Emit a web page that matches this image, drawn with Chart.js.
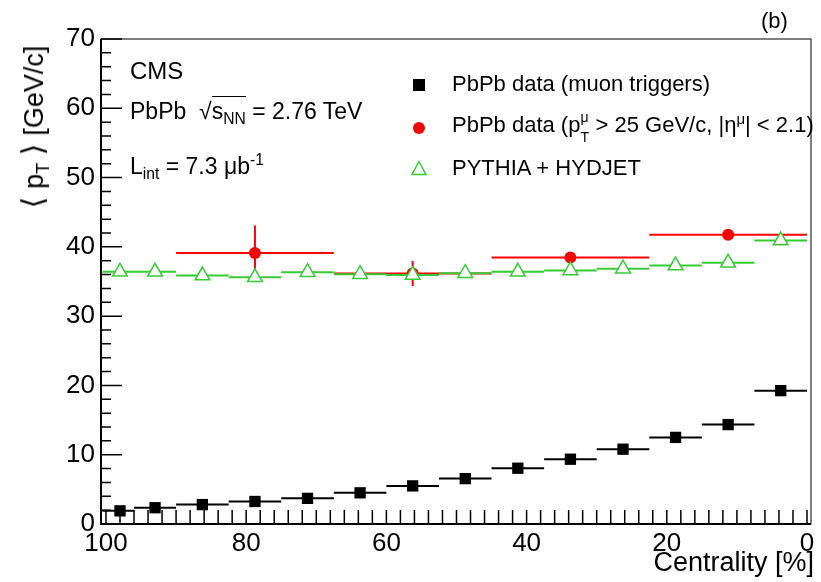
<!DOCTYPE html>
<html>
<head>
<meta charset="utf-8">
<script src="https://cdn.jsdelivr.net/npm/chart.js@4.4.0/dist/chart.umd.min.js"></script>
<style>
body { margin: 0; background: #fff; }
#wrap { position: relative; width: 821px; height: 582px; font-family: "Liberation Sans", Arial, Helvetica, sans-serif; color: #000; }
#chart { position: absolute; left: 0; top: 0; }
.txt { position: absolute; white-space: nowrap; line-height: 1; }
.txt sub { font-size: 0.68em; vertical-align: baseline; position: relative; top: 0.3em; }
.txt sup { font-size: 0.68em; vertical-align: baseline; position: relative; top: -0.55em; }
.ov { border-top: 1.5px solid #000; padding-top: 1px; }
.stack { display: inline-block; position: relative; width: 9px; height: 0; vertical-align: baseline; }
.stack span { position: absolute; left: 0; font-size: 14px; line-height: 1; }
.mk { position: absolute; }
#ytitle { position: absolute; left: 33px; top: 127px; transform: translate(-50%, -50%) rotate(-90deg); white-space: nowrap; line-height: 1; font-size: 27px; }
#ytitle .br { font-size: 30px; }
</style>
</head>
<body>
<div id="wrap">
  <canvas id="chart" width="821" height="582"></canvas>

  <div class="txt" style="left:761px; top:10px; font-size:22px;">(b)</div>
  <div class="txt" style="left:130px; top:59px; font-size:24px;">CMS</div>
  <div class="txt" style="left:130px; top:100px; font-size:23px;">PbPb&nbsp;&nbsp;√<span class="ov">s<sub>NN</sub></span> = 2.76 TeV</div>
  <div class="txt" style="left:130px; top:155px; font-size:23px;">L<sub>int</sub> = 7.3 μb<sup>-1</sup></div>

  <svg class="mk" style="left:413px; top:79px;" width="12" height="12"><rect x="0" y="0" width="12" height="12" fill="#000"/></svg>
  <div class="txt" style="left:452px; top:73px; font-size:22px;">PbPb data (muon triggers)</div>
  <svg class="mk" style="left:413px; top:122px;" width="12" height="12"><circle cx="6" cy="6" r="6" fill="#ff0000"/></svg>
  <div class="txt" style="left:452px; top:114px; font-size:22px;">PbPb data (p<span class="stack"><span style="top:-22px;">μ</span><span style="top:-2px;">T</span></span> &gt; 25 GeV/c, |η<sup>μ</sup>| &lt; 2.1)</div>
  <svg class="mk" style="left:411px; top:160px;" width="16" height="16"><polygon points="8,1.5 15,14.5 1,14.5" fill="#fff" stroke="#33cc33" stroke-width="1.5"/></svg>
  <div class="txt" style="left:452px; top:157px; font-size:22px;">PYTHIA + HYDJET</div>

  <div id="ytitle"><span class="br">⟨</span> p<sub style="font-size:0.68em;position:relative;top:0.3em;vertical-align:baseline;">T</sub> <span class="br">⟩</span> [GeV/c]</div>
  <div class="txt" style="right:7px; top:549px; font-size:27px;">Centrality [%]</div>
</div>

<script>
// centrality bins (%) for the muon-trigger and PYTHIA+HYDJET points
const binCenter = [98, 93, 86.25, 78.75, 71.25, 63.75, 56.25, 48.75, 41.25, 33.75, 26.25, 18.75, 11.25, 3.75];
const binLow = [96, 90, 82.5, 75, 67.5, 60, 52.5, 45, 37.5, 30, 22.5, 15, 7.5, 0];
const binHigh = [100.5, 96, 90, 82.5, 75, 67.5, 60, 52.5, 45, 37.5, 30, 22.5, 15, 7.5];

// <pT> values [GeV/c]
const muonTrig = [1.9, 2.35, 2.8, 3.25, 3.7, 4.5, 5.5, 6.55, 8.05, 9.35, 10.8, 12.5, 14.35, 19.25];
const pythiaHydjet = [36.4, 36.4, 35.85, 35.6, 36.35, 36.05, 35.95, 36.2, 36.4, 36.6, 36.85, 37.3, 37.7, 40.9];

// high-pT muon selection, wide bins
const wCenter = [78.75, 56.25, 33.75, 11.25];
const wLow = [67.5, 45, 22.5, 0];
const wHigh = [90, 67.5, 45, 22.5];
const wValue = [39.1, 36.15, 38.45, 41.75];
const wErr = [4.0, 1.8, 0.6, 0.5];

const xTickLabels = [0, 20, 40, 60, 80, 100];
const yTickLabels = [0, 10, 20, 30, 40, 50, 60, 70];

const FONT = '"Liberation Sans", Arial, Helvetica, sans-serif';

function toPoints(xs, ys) {
    return xs.map((x, i) => ({ x: x, y: ys[i] }));
}

// horizontal (bin width) and vertical error bars, drawn under each dataset's markers
const errorBars = {
    id: 'errorBars',
    beforeDatasetDraw(chart, args) {
        const ds = chart.data.datasets[args.index];
        if (!ds.errLow) return;
        const { ctx, scales: { x, y } } = chart;
        ctx.save();
        ctx.strokeStyle = ds.barColor;
        ctx.lineWidth = 2;
        ds.data.forEach((p, i) => {
            const py = y.getPixelForValue(p.y);
            ctx.beginPath();
            ctx.moveTo(x.getPixelForValue(ds.errLow[i]), py);
            ctx.lineTo(x.getPixelForValue(ds.errHigh[i]), py);
            ctx.stroke();
            if (ds.errY && ds.errY[i]) {
                const px = x.getPixelForValue(p.x);
                ctx.beginPath();
                ctx.moveTo(px, y.getPixelForValue(p.y - ds.errY[i]));
                ctx.lineTo(px, y.getPixelForValue(p.y + ds.errY[i]));
                ctx.stroke();
            }
        });
        ctx.restore();
    }
};

// ROOT-like frame with ticks pointing into the plot
const frameTicks = {
    id: 'frameTicks',
    afterDraw(chart) {
        const { ctx, chartArea: a, scales: { x, y } } = chart;
        ctx.save();
        ctx.strokeStyle = '#000';
        ctx.lineWidth = 1.5;
        ctx.beginPath();
        for (let v = 0; v <= 70; v += 2) {
            const py = y.getPixelForValue(v);
            const len = v % 10 === 0 ? 21 : 10;
            ctx.moveTo(a.left, py);
            ctx.lineTo(a.left + len, py);
        }
        for (let v = 0; v <= 100; v += 2) {
            const px = x.getPixelForValue(v);
            ctx.moveTo(px, a.bottom);
            ctx.lineTo(px, a.bottom - 14);
        }
        ctx.stroke();

        ctx.lineWidth = 1;
        ctx.strokeRect(a.left, a.top, a.right - a.left, a.bottom - a.top);
        ctx.lineWidth = 2;
        ctx.beginPath();
        ctx.moveTo(a.left, a.top);
        ctx.lineTo(a.left, a.bottom);
        ctx.lineTo(a.right, a.bottom);
        ctx.stroke();
        ctx.restore();
    }
};

const ctx = document.getElementById('chart').getContext('2d');
new Chart(ctx, {
    type: 'scatter',
    data: {
        datasets: [
            {
                label: 'PbPb data (muon triggers)',
                data: toPoints(binCenter, muonTrig),
                errLow: binLow,
                errHigh: binHigh,
                barColor: '#000',
                pointStyle: 'rect',
                pointRadius: 8,
                backgroundColor: '#000',
                borderColor: '#000',
                borderWidth: 0
            },
            {
                label: 'PYTHIA + HYDJET',
                data: toPoints(binCenter, pythiaHydjet),
                errLow: binLow,
                errHigh: binHigh,
                barColor: '#33cc33',
                pointStyle: 'triangle',
                pointRadius: 8.5,
                backgroundColor: '#fff',
                borderColor: '#33cc33',
                borderWidth: 1.5
            },
            {
                label: 'PbPb data (pT > 25 GeV/c, |eta| < 2.1)',
                data: toPoints(wCenter, wValue),
                errLow: wLow,
                errHigh: wHigh,
                errY: wErr,
                barColor: '#ff0000',
                pointStyle: 'circle',
                pointRadius: 6,
                backgroundColor: '#ff0000',
                borderColor: '#ff0000',
                borderWidth: 0
            }
        ]
    },
    options: {
        responsive: false,
        animation: false,
        events: [],
        layout: { padding: { top: 39, right: 6, left: 0, bottom: 0 } },
        plugins: {
            legend: { display: false },
            tooltip: { enabled: false }
        },
        scales: {
            x: {
                type: 'linear',
                reverse: true,
                min: -0.57,
                max: 100.71,
                afterBuildTicks: s => { s.ticks = xTickLabels.map(v => ({ value: v })); },
                afterFit: s => { s.height = 58; },
                grid: { display: false, drawTicks: false },
                border: { display: false },
                ticks: { color: '#000', padding: 4, maxRotation: 0, autoSkip: false, font: { family: FONT, size: 26 } }
            },
            y: {
                min: 0,
                max: 70,
                afterBuildTicks: s => { s.ticks = yTickLabels.map(v => ({ value: v })); },
                afterFit: s => { s.width = 101; },
                grid: { display: false, drawTicks: false },
                border: { display: false },
                ticks: { color: '#000', padding: 6, font: { family: FONT, size: 26 } }
            }
        }
    },
    plugins: [errorBars, frameTicks]
});
</script>
</body>
</html>
